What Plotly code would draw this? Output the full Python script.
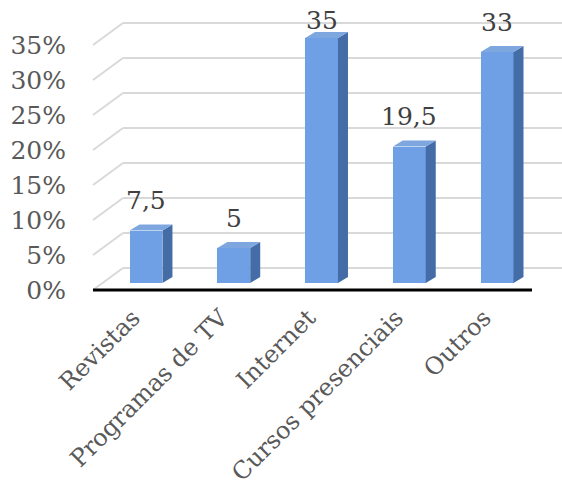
import plotly.graph_objects as go

categories = ["Revistas", "Programas de TV", "Internet", "Cursos presenciais", "Outros"]
values = [7.5, 5, 35, 19.5, 33]
tick_values = [0, 5, 10, 15, 20, 25, 30, 35]
tick_labels = ["0%", "5%", "10%", "15%", "20%", "25%", "30%", "35%"]

W, H = 562, 488
L, R, T, B = 93, 0, 10, 188
plot_w = W - L - R
plot_h = H - T - B
PX_PER_UNIT = 7.0          # pixels per percentage point
PX_PER_CAT = 87.76         # pixels per category

xs = list(range(len(categories)))
x_range = [-53 / PX_PER_CAT, -53 / PX_PER_CAT + plot_w / PX_PER_CAT]

# label axis: 0 at pixel 290 ; bar axis: 0 at pixel 283
def y_range(zero_px):
    bottom_px = T + plot_h
    return [-(bottom_px - zero_px) / PX_PER_UNIT, (zero_px - T) / PX_PER_UNIT]

yr_labels = y_range(290)
yr_bars = y_range(283)

bar_w = 0.375
dx = 10 / PX_PER_CAT
dy = 6 / PX_PER_UNIT
back_shift_x = 30 / plot_w
back_shift_y = 22 / PX_PER_UNIT

font_family = "DejaVu Serif"

fig = go.Figure()

# front faces
fig.add_trace(go.Bar(
    x=xs, y=values, width=bar_w, xaxis="x", yaxis="y2",
    marker=dict(color="#6F9FE4", line=dict(width=0)),
    hoverinfo="skip", showlegend=False,
))

# side faces
sx, sy = [], []
for xi, v in zip(xs, values):
    xr = xi + bar_w / 2
    sx += [xr, xr + dx, xr + dx, xr, xr, None]
    sy += [0, dy, v + dy, v, 0, None]
fig.add_trace(go.Scatter(
    x=sx, y=sy, xaxis="x", yaxis="y2", mode="lines", fill="toself",
    fillcolor="#446DA8", line=dict(width=0, color="#446DA8"),
    hoverinfo="skip", showlegend=False,
))

# top faces
tx, ty = [], []
for xi, v in zip(xs, values):
    xl, xr = xi - bar_w / 2, xi + bar_w / 2
    tx += [xl, xr, xr + dx, xl + dx, xl, None]
    ty += [v, v, v + dy, v + dy, v, None]
fig.add_trace(go.Scatter(
    x=tx, y=ty, xaxis="x", yaxis="y2", mode="lines", fill="toself",
    fillcolor="#7EA7DF", line=dict(width=0, color="#7EA7DF"),
    hoverinfo="skip", showlegend=False,
))

shapes = []
grid_color = "#D9D9D9"
for tv in tick_values:
    # back wall gridline
    shapes.append(dict(type="line", xref="paper", yref="y",
                       x0=back_shift_x, x1=1, y0=tv + back_shift_y, y1=tv + back_shift_y,
                       line=dict(color=grid_color, width=2), layer="below"))
    # side wall diagonal
    shapes.append(dict(type="line", xref="paper", yref="y",
                       x0=0, x1=back_shift_x, y0=tv, y1=tv + back_shift_y,
                       line=dict(color=grid_color, width=2), layer="below"))
# black baseline
shapes.append(dict(type="line", xref="paper", yref="y",
                   x0=0, x1=1 - back_shift_x, y0=0, y1=0,
                   line=dict(color="#000000", width=3), layer="above"))

annotations = []
for xi, v in zip(xs, values):
    txt = ("%g" % v).replace(".", ",")
    center_px = 283 - PX_PER_UNIT * v
    shift = min(30, center_px - 20)
    annotations.append(dict(x=xi, y=v, xref="x", yref="y2", text=txt,
                            showarrow=False, yshift=shift,
                            font=dict(family=font_family, size=25, color="#404040")))

fig.update_layout(
    width=W, height=H,
    margin=dict(l=L, r=R, t=T, b=B),
    paper_bgcolor="white", plot_bgcolor="white",
    template="none",
    showlegend=False,
    bargap=0,
    shapes=shapes,
    annotations=annotations,
    xaxis=dict(range=x_range, tickvals=xs, ticktext=categories, tickangle=-45,
               showgrid=False, zeroline=False, showline=False, ticks="",
               ticklabelshift=-13, ticklabelstandoff=-2,
               automargin=False, fixedrange=True,
               tickfont=dict(family=font_family, size=24, color="#595959")),
    yaxis=dict(range=yr_labels, tickvals=tick_values, ticktext=tick_labels,
               showgrid=False, zeroline=False, showline=False, ticks="",
               ticklabelstandoff=26, automargin=False, fixedrange=True,
               tickfont=dict(family=font_family, size=25, color="#595959")),
    yaxis2=dict(range=yr_bars, overlaying="y", visible=False, fixedrange=True),
)

fig.write_html("out.html")
